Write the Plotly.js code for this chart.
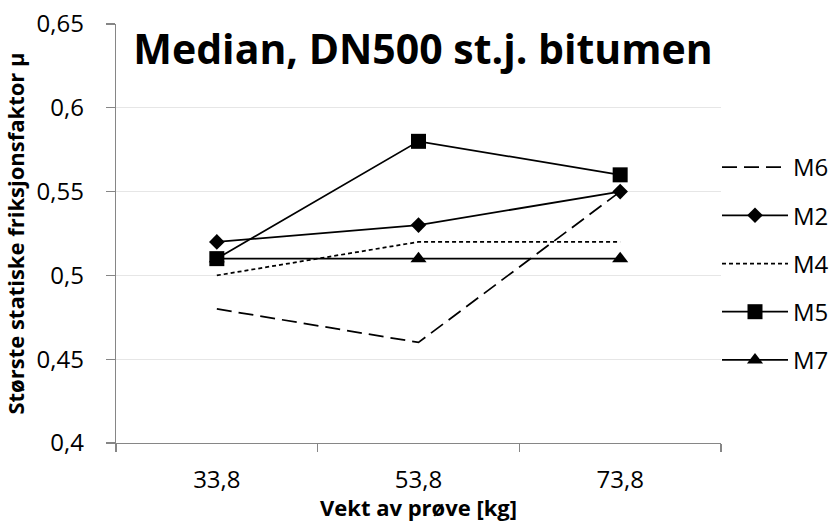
<!DOCTYPE html>
<html>
<head>
<meta charset="utf-8">
<script src="https://cdn.plot.ly/plotly-3.0.1.min.js"></script>
<style>html,body{margin:0;padding:0;background:#fff}</style>
</head>
<body>
<div id="chart" style="width:834px;height:522px"></div>
<script>
// Sample weight categories (kg)
const weights = ['33,8', '53,8', '73,8'];

// Median static friction factor per series
const m6 = [0.48, 0.46, 0.55];
const m2 = [0.52, 0.53, 0.55];
const m4 = [0.50, 0.52, 0.52];
const m5 = [0.51, 0.58, 0.56];
const m7 = [0.51, 0.51, 0.51];

// Value axis ticks
const yTicks = [0.4, 0.45, 0.5, 0.55, 0.6, 0.65];
const yTickText = ['0,4', '0,45', '0,5', '0,55', '0,6', '0,65'];

const FONT = 'Open Sans, sans-serif';
const AXIS = '#868686';
const LINE_W = 1.75;

function series(name, y, dash, symbol, size) {
  const t = {
    type: 'scatter',
    name: name,
    x: weights,
    y: y,
    legendgroup: name,
    line: {color: '#000', width: LINE_W, dash: dash},
    hoverinfo: 'x+y+name'
  };
  if (symbol) {
    t.mode = 'lines+markers';
    t.marker = {symbol: symbol, size: size, color: '#000'};
  } else {
    t.mode = 'lines';
  }
  return t;
}

const data = [
  series('M6', m6, '15px,7px'),
  series('M2', m2, 'solid', 'diamond', 12),
  series('M4', m4, '4px,3px'),
  series('M5', m5, 'solid', 'square', 15),
  series('M7', m7, 'solid', 'triangle-up', 14)
];

const layout = {
  width: 834,
  height: 522,
  margin: {l: 116, r: 113, t: 24, b: 79, pad: 0, autoexpand: false},
  paper_bgcolor: '#fff',
  plot_bgcolor: '#fff',
  font: {family: FONT, color: '#000', size: 24},
  showlegend: true,
  title: {
    text: '<b>Median, DN500 st.j. bitumen</b>',
    font: {family: FONT, size: 41, color: '#000'},
    xref: 'container', x: 423 / 834, xanchor: 'center',
    yref: 'container', y: 1 - 50 / 522, yanchor: 'middle'
  },
  xaxis: {
    type: 'category',
    range: [-0.5, 2.5],
    tickson: 'boundaries',
    ticks: 'outside',
    ticklen: 8,
    tickwidth: 1.3,
    tickcolor: AXIS,
    showline: true,
    linecolor: AXIS,
    linewidth: 1.3,
    showgrid: false,
    zeroline: false,
    ticklabelstandoff: 15,
    tickfont: {size: 24},
    title: {text: '<b>Vekt av prøve [kg]</b>', font: {size: 22}, standoff: 7}
  },
  yaxis: {
    range: [0.4, 0.65],
    tickvals: yTicks,
    ticktext: yTickText,
    ticks: 'outside',
    ticklen: 9,
    tickwidth: 1.3,
    tickcolor: AXIS,
    showline: true,
    linecolor: AXIS,
    linewidth: 1.3,
    showgrid: true,
    gridcolor: '#e6e6e6',
    gridwidth: 1.3,
    zeroline: false,
    ticklabelstandoff: 17,
    tickfont: {size: 24},
    title: {text: '<b>Største statiske friksjonsfaktor µ</b>', font: {size: 22}, standoff: 18}
  },
  legend: {
    x: (717 - 116) / 605, xanchor: 'left',
    y: (443 - 145) / 419, yanchor: 'top',
    font: {size: 24},
    tracegroupgap: 14,
    itemwidth: 66,
    bgcolor: 'rgba(0,0,0,0)'
  }
};

Plotly.newPlot('chart', data, layout, {displayModeBar: false, staticPlot: true});
</script>
</body>
</html>
